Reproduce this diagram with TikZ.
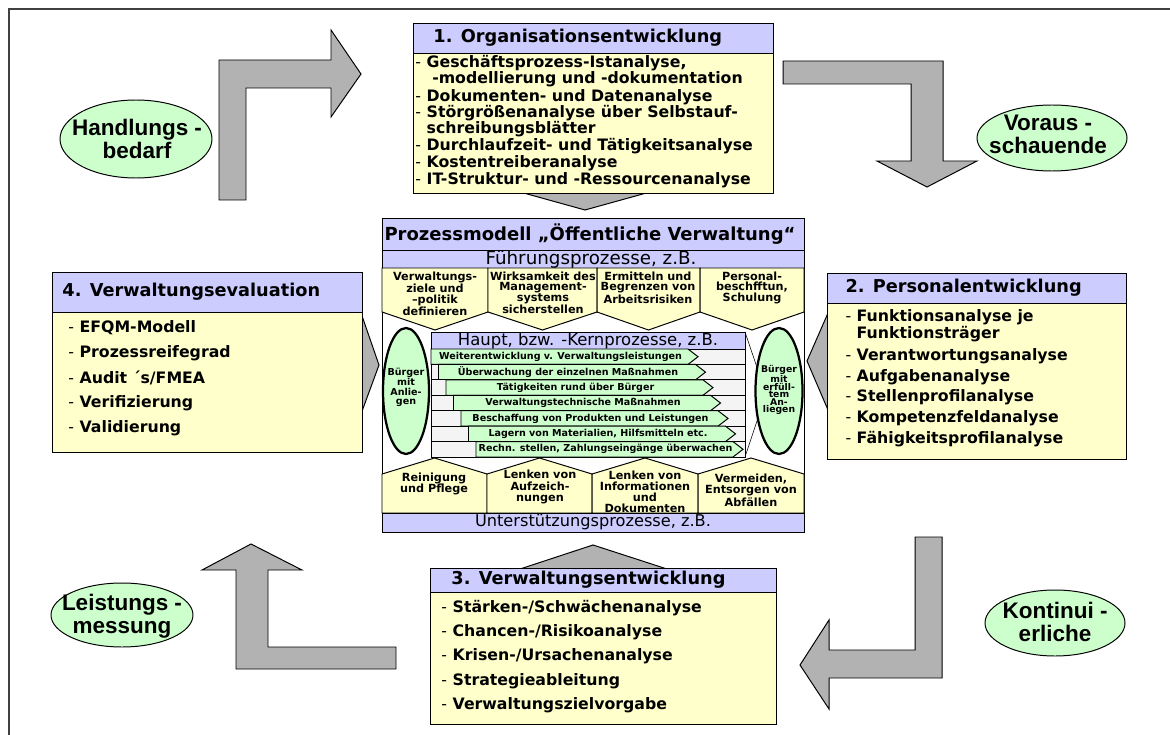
\documentclass[tikz,border=0pt]{standalone}
\usepackage{fontspec}
\setmainfont{DejaVu Sans}
\newfontfamily\bubblefont{Liberation Sans}
\usetikzlibrary{positioning}

\definecolor{hdrblue}{RGB}{204,204,255}
\definecolor{boxyellow}{RGB}{255,255,204}
\definecolor{lightgreen}{RGB}{204,255,204}
\definecolor{arrowgray}{RGB}{178,178,178}
\definecolor{rowgray}{RGB}{244,244,244}
\newcommand{\itm}{\textmd{-}\ }

\begin{document}
\begin{tikzpicture}[x=0.025cm, y=-0.025cm, line width=0.7pt,
  hdr/.style={draw, fill=hdrblue},
  body/.style={draw, fill=boxyellow},
  grayarrow/.style={draw, fill=arrowgray},
  headtext/.style={anchor=west, inner sep=0, font=\bfseries\fontsize{12.6}{14}\selectfont},
  item/.style={anchor=west, inner sep=0, font=\bfseries\fontsize{11.2}{12}\selectfont},
  bubble/.style={align=center, inner sep=0, font=\bubblefont\bfseries\fontsize{16}{16.5}\selectfont},
  band/.style={inner sep=0, font=\fontsize{13}{14}\selectfont},
  proc/.style={align=center, inner sep=0, font=\bfseries\fontsize{8}{7.6}\selectfont},
  rowtext/.style={inner sep=0, font=\bfseries\fontsize{6.8}{8}\selectfont},
  citizen/.style={align=center, inner sep=0, font=\bfseries\fontsize{6.8}{6.5}\selectfont}]

\useasboundingbox (0,0) rectangle (1170,735);
% frame
\draw[black!75, line width=1pt] (9,735) -- (9,9) -- (1170,9);

% cycle arrows
\draw[grayarrow] (219,200) -- (219,60) -- (331,60) -- (331,30) -- (361,74) -- (331,117) -- (331,88) -- (246,88) -- (246,200) -- cycle;
\draw[grayarrow] (783,61) -- (943,61) -- (943,161) -- (977,161) -- (927,187) -- (877,161) -- (911,161) -- (911,84) -- (783,84) -- cycle;
\draw[grayarrow] (942,537) -- (942,678) -- (829,678) -- (829,709) -- (800,665) -- (829,620) -- (829,650) -- (915,650) -- (915,537) -- cycle;
\draw[grayarrow] (396,647) -- (396,669) -- (236,669) -- (236,570) -- (202,570) -- (251,544) -- (302,570) -- (268,570) -- (268,647) -- cycle;

% bubbles
\draw[fill=lightgreen] (136,139) ellipse [x radius=76, y radius=39];
\node[bubble] (need) at (137,139) {Handlungs -\\bedarf};
\draw[fill=lightgreen] (1052,138) ellipse [x radius=75, y radius=33];
\node[bubble] (ahead) at (1048,134) {Voraus -\\schauende};
\draw[fill=lightgreen] (122,615) ellipse [x radius=71, y radius=32];
\node[bubble] (measure) at (122,616) {Leistungs -\\messung};
\draw[fill=lightgreen] (1055,623) ellipse [x radius=70, y radius=33];
\node[bubble] (steady) at (1055,622) {Kontinui -\\erliche};

% 1. Organisationsentwicklung
\draw[grayarrow] (520,192) -- (585,210) -- (650,192) -- cycle;
\draw[hdr] (413,23) rectangle (773,53);
\draw[body] (413,53) rectangle (773,193);
\node[headtext] (org-head) at (433,38) {1. Organisationsentwicklung};
\foreach \y/\txt in {63/{\itm Geschäftsprozess-Istanalyse,},
    79/{\phantom{\itm}\hspace{4pt}-modellierung und -dokumentation},
    97/{\itm Dokumenten- und Datenanalyse},
    113/{\itm Störgrößenanalyse über Selbstauf-},
    129/{\phantom{\itm}schreibungsblätter},
    146/{\itm Durchlaufzeit- und Tätigkeitsanalyse},
    163/{\itm Kostentreiberanalyse},
    180/{\itm IT-Struktur- und -Ressourcenanalyse}}
  \node[item] (org-\y) at (415,\y) {\txt};

% 4. Verwaltungsevaluation
\draw[grayarrow] (361,313) -- (379,365) -- (361,414) -- cycle;
\draw[hdr] (52,272) rectangle (362,312);
\draw[body] (52,312) rectangle (362,452);
\node[headtext] (eval-head) at (62,292) {4. Verwaltungsevaluation};
\foreach \txt [count=\i from 0] in {EFQM-Modell, Prozessreifegrad, Audit ´s/FMEA, Verifizierung, Validierung}
  \node[item] (eval-\i) at (68,{328+25*\i}) {\itm \txt};

% 2. Personalentwicklung
\draw[grayarrow] (828,313) -- (807,361) -- (828,410) -- cycle;
\draw[hdr] (827,273) rectangle (1126,303);
\draw[body] (827,303) rectangle (1126,459);
\node[headtext] (staff-head) at (845,288) {2. Personalentwicklung};
\foreach \y/\txt in {317/{\itm Funktionsanalyse je},
    334/{\phantom{\itm}Funktionsträger},
    356/{\itm Verantwortungsanalyse},
    377/{\itm Aufgabenanalyse},
    397/{\itm Stellenprofilanalyse},
    418/{\itm Kompetenzfeldanalyse},
    439/{\itm Fähigkeitsprofilanalyse}}
  \node[item] (staff-\y) at (845,\y) {\txt};

% 3. Verwaltungsentwicklung
\draw[grayarrow] (520,569) -- (593,545) -- (667,569) -- cycle;
\draw[hdr] (430,568) rectangle (776,592);
\draw[body] (430,592) rectangle (776,724);
\node[headtext] (admin-head) at (451,580) {3. Verwaltungsentwicklung};
\foreach \txt [count=\i from 0] in {Stärken-/Schwächenanalyse, Chancen-/Risikoanalyse, Krisen-/Ursachenanalyse, Strategieableitung, Verwaltungszielvorgabe}
  \node[item] (admin-\i) at (441,{608+24.3*\i}) {\itm \txt};

% process model
\draw[fill=white] (382,218) rectangle (804,532);
\draw[hdr] (382,218) rectangle (804,250);
\node[inner sep=0, font=\bfseries\fontsize{12.8}{14}\selectfont] (model) at (590,234) {Prozessmodell „Öffentliche Verwaltung“};
\draw[hdr] (382,250) rectangle (804,268);
\node[band] (lead) at (591,259) {Führungsprozesse, z.B.};
\foreach \a/\b in {382/488, 488/597, 597/700, 700/804}
  \draw[body] (\a,268) -- (\b,268) -- (\b,312) -- ({(\a+\b)/2},330) -- (\a,312) -- cycle;
\node[proc, anchor=north] (lead-1) at (435,271) {Verwaltungs-\\ziele und\\–politik\\definieren};
\node[proc, anchor=north] (lead-2) at (543,271) {Wirksamkeit des\\Management-\\systems\\sicherstellen};
\node[proc, anchor=north] (lead-3) at (648,271) {Ermitteln und\\Begrenzen von\\Arbeitsrisiken};
\node[proc, anchor=north] (lead-4) at (752,271) {Personal-\\beschfftun,\\Schulung};

% core processes
\draw[line width=0.4pt] (745,332) -- (766,394) -- (745,457);
\draw[hdr] (431,332) rectangle (745,349);
\node[band, font=\fontsize{11.7}{13}\selectfont] (core) at (588,340.5) {Haupt, bzw. -Kernprozesse, z.B.};
\foreach \txt [count=\i from 0] in {Weiterentwicklung v. Verwaltungsleistungen,
    Überwachung der einzelnen Maßnahmen,
    Tätigkeiten rund über Bürger,
    Verwaltungstechnische Maßnahmen,
    Beschaffung von Produkten und Leistungen,
    Lagern von Materialien{,} Hilfsmitteln etc.,
    Rechn. stellen{,} Zahlungseingänge überwachen}{
  \pgfmathsetmacro{\rt}{349+15.43*\i}
  \pgfmathsetmacro{\rb}{\rt+15.43}
  \pgfmathsetmacro{\sx}{431+7.5*\i}
  \pgfmathsetmacro{\tx}{698+7.5*\i}
  \draw[fill=rowgray] (431,\rt) rectangle (745,\rb);
  \draw[fill=lightgreen] (\sx,\rt) -- ({\tx-10},\rt) -- (\tx,{(\rt+\rb)/2}) -- ({\tx-10},\rb) -- (\sx,\rb) -- cycle;
  \node[rowtext] (core-\i) at ({(\sx+\tx)/2-4},{(\rt+\rb)/2}) {\txt};
}

% citizens
\draw[fill=lightgreen, line width=1.6pt] (406,391) ellipse [x radius=23, y radius=63];
\node[citizen] (citizen-in) at (406,387) {Bürger\\mit\\Anlie-\\gen};
\draw[fill=lightgreen, line width=1.6pt] (779,391) ellipse [x radius=23.5, y radius=63];
\node[citizen, font=\bfseries\fontsize{6.6}{5.3}\selectfont] (citizen-out) at (779,390) {Bürger\\mit\\erfüll-\\tem\\An-\\liegen};

% support processes
\foreach \a/\b in {382/487, 487/592, 592/698, 698/804}
  \draw[body] (\a,513) -- (\a,474) -- ({(\a+\b)/2},458) -- (\b,474) -- (\b,513) -- cycle;
\node[proc, font=\bfseries\fontsize{8}{7.9}\selectfont] (support-1) at (434,484) {Reinigung\\und Pflege};
\node[proc, font=\bfseries\fontsize{8}{7.9}\selectfont] (support-2) at (540,487) {Lenken von\\Aufzeich-\\nungen};
\node[proc, font=\bfseries\fontsize{8}{7.9}\selectfont] (support-3) at (645,492) {Lenken von\\Informationen\\und\\Dokumenten};
\node[proc, font=\bfseries\fontsize{8}{7.9}\selectfont] (support-4) at (751,490) {Vermeiden,\\Entsorgen von\\Abfällen};
\draw[hdr] (382,513) rectangle (804,532);
\node[band, font=\fontsize{11.5}{13}\selectfont] (support) at (593,522.5) {Unterstützungsprozesse, z.B.};
\end{tikzpicture}
\end{document}
